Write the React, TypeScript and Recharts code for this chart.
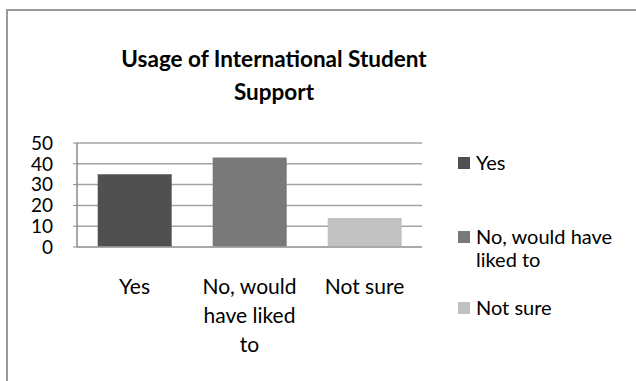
import React from 'react';
import { BarChart, Bar, XAxis, YAxis, CartesianGrid, Cell } from 'recharts';

const categories = ['Yes', 'No, would have liked to', 'Not sure'];
const values = [35, 43, 14];
const colors = ['#505050', '#797979', '#c2c2c2'];
const yTicks = [0, 10, 20, 30, 40, 50];
const titleLines = ['Usage of International Student', 'Support'];

const data = categories.map((name, i) => ({ name, value: values[i] }));

const FONT = 'Lato, "Open Sans", sans-serif';

// greedy word wrap, like Excel does on narrow labels
const wrap = (text: string, max: number) => {
  const lines: string[] = [];
  let cur = '';
  text.split(' ').forEach((w) => {
    const next = cur ? cur + ' ' + w : w;
    if (next.length > max && cur) {
      lines.push(cur);
      cur = w;
    } else {
      cur = next;
    }
  });
  if (cur) lines.push(cur);
  return lines;
};

const XTick = ({ x, y, payload }: any) => {
  const lines = wrap(String(payload.value), 10);
  return (
    <text x={x} y={y} textAnchor="middle" fontFamily={FONT} fontSize={21} fill="#000">
      {lines.map((l, i) => (
        <tspan key={i} x={x} dy={i === 0 ? 47 : 29}>
          {l}
        </tspan>
      ))}
    </text>
  );
};

// legend rows: top of each item (layout only)
const legendTops = [157, 231, 302];

const App: React.FC = () => {
  return (
    <div
      style={{
        position: 'absolute',
        left: 0,
        top: 0,
        width: 636,
        height: 381,
        background: '#fff',
        overflow: 'hidden',
      }}
    >
      {/* outer chart frame, cut off at right and bottom */}
      <div
        style={{
          position: 'absolute',
          left: 6,
          top: 9,
          width: 700,
          height: 420,
          border: '2px solid #9a9a9a',
        }}
      />
      <BarChart
        width={636}
        height={381}
        data={data}
        margin={{ top: 143, right: 214, bottom: 104, left: 0 }}
        barCategoryGap="18%"
      >
        <CartesianGrid vertical={false} stroke="#a3a3a3" strokeWidth={1.5} />
        <XAxis
          dataKey="name"
          tickLine={false}
          tickSize={0}
          tickMargin={0}
          axisLine={{ stroke: '#a3a3a3', strokeWidth: 1.5 }}
          tick={<XTick />}
          interval={0}
        />
        <YAxis
          width={77}
          domain={[0, 50]}
          ticks={yTicks}
          interval={0}
          tickSize={4}
          tickMargin={20}
          tickLine={{ stroke: '#8a8a8a' }}
          axisLine={{ stroke: '#8a8a8a', strokeWidth: 1.5 }}
          tick={{ fontFamily: FONT, fontSize: 19, fill: '#000' }}
        />
        <Bar dataKey="value" isAnimationActive={false}>
          {data.map((d, i) => (
            <Cell key={d.name} fill={colors[i]} />
          ))}
        </Bar>
      </BarChart>
      <svg
        width={636}
        height={381}
        style={{ position: 'absolute', left: 0, top: 0, pointerEvents: 'none' }}
      >
        {titleLines.map((t, i) => (
          <text
            key={t}
            x={274}
            y={67 + i * 33}
            textAnchor="middle"
            fontFamily={FONT}
            fontWeight="bold"
            fontSize={22.5}
            fill="#000"
          >
            {t}
          </text>
        ))}
        {categories.map((c, i) => (
          <g key={c}>
            <rect x={458} y={legendTops[i]} width={12} height={12} fill={colors[i]} />
            <text x={476} y={legendTops[i] + 13} fontFamily={FONT} fontSize={20} fill="#000">
              {wrap(c, 14).map((l, j) => (
                <tspan key={j} x={476} dy={j === 0 ? 0 : 23}>
                  {l}
                </tspan>
              ))}
            </text>
          </g>
        ))}
      </svg>
    </div>
  );
};

export default App;
